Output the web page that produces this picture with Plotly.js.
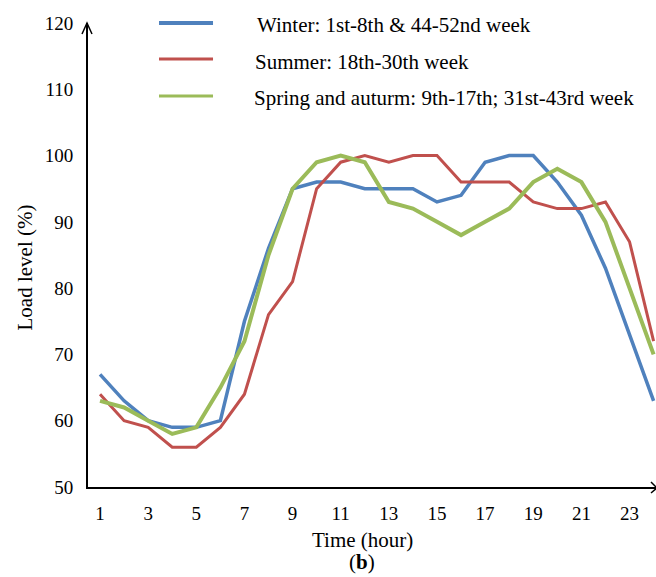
<!DOCTYPE html>
<html>
<head>
<meta charset="utf-8">
<script src="https://cdn.plot.ly/plotly-3.0.1.min.js"></script>
<style>
  html, body { margin: 0; padding: 0; background: #ffffff; }
  #chart { width: 656px; height: 577px; }
</style>
</head>
<body>
<div id="chart"></div>
<script>
// Hourly load profile by season (percent of peak)
const hours = [1, 2, 3, 4, 5, 6, 7, 8, 9, 10, 11, 12, 13, 14, 15, 16, 17, 18, 19, 20, 21, 22, 23, 24];
const winter = [67, 63, 60, 59, 59, 60, 75, 86, 95, 96, 96, 95, 95, 95, 93, 94, 99, 100, 100, 96, 91, 83, 73, 63];
const summer = [64, 60, 59, 56, 56, 59, 64, 76, 81, 95, 99, 100, 99, 100, 100, 96, 96, 96, 93, 92, 92, 93, 87, 72];
const springAutumn = [63, 62, 60, 58, 59, 65, 72, 85, 95, 99, 100, 99, 93, 92, 90, 88, 90, 92, 96, 98, 96, 90, 80, 70];

const seriesNames = [
  'Winter: 1st-8th & 44-52nd week',
  'Summer: 18th-30th week',
  'Spring and auturm: 9th-17th; 31st-43rd week'
];
const xTickVals = [1, 3, 5, 7, 9, 11, 13, 15, 17, 19, 21, 23];
const yTickVals = [50, 60, 70, 80, 90, 100, 110, 120];

const colors = ['#4F81BD', '#C0504D', '#9BBB59'];
const widths = [3.5, 3, 4];
const seriesValues = [winter, summer, springAutumn];

const serif = '"Liberation Serif", "Times New Roman", Times, serif';

const traces = seriesValues.map((vals, i) => ({
  type: 'scatter',
  mode: 'lines',
  x: hours,
  y: vals,
  name: seriesNames[i],
  line: { color: colors[i], width: widths[i] },
  showlegend: false,
  hoverinfo: 'x+y'
}));

// Hand-placed legend: sample line + label per series
const legendRows = [
  { y: 1.0, ty: 0.995, tx: 0.294, lw: 4 },
  { y: 0.9224, ty: 0.915, tx: 0.2905, lw: 3 },
  { y: 0.8427, ty: 0.838, tx: 0.2887, lw: 3 }
];

const shapes = [];
const annotations = [];
legendRows.forEach((row, i) => {
  shapes.push({
    type: 'line', xref: 'paper', yref: 'paper',
    x0: 0.125, x1: 0.2201, y0: row.y, y1: row.y,
    line: { color: colors[i], width: row.lw }
  });
  annotations.push({
    xref: 'paper', yref: 'paper', x: row.tx, y: row.ty,
    xanchor: 'left', yanchor: 'middle', showarrow: false,
    text: seriesNames[i].replace('&', '&amp;'),
    font: { family: serif, size: 21, color: '#000000' }
  });
});

// Open arrow heads at the ends of both axes
shapes.push({
  type: 'path', xref: 'paper', yref: 'paper',
  xsizemode: 'pixel', ysizemode: 'pixel', xanchor: 0, yanchor: 1,
  path: 'M-6,-11 L-1,0 L4,-11',
  line: { color: '#000000', width: 1.5 }
});
shapes.push({
  type: 'path', xref: 'paper', yref: 'paper',
  xsizemode: 'pixel', ysizemode: 'pixel', xanchor: 1, yanchor: 0,
  path: 'M-5,5 L1,-1 L-5,-6',
  line: { color: '#000000', width: 1.5 }
});

annotations.push({
  xref: 'paper', yref: 'paper', x: -0.111, y: 0.473,
  xanchor: 'center', yanchor: 'middle', showarrow: false, textangle: -90,
  text: 'Load level (%)',
  font: { family: serif, size: 21, color: '#000000' }
});
annotations.push({
  xref: 'paper', yref: 'paper', x: 0.484, y: -0.1135,
  xanchor: 'center', yanchor: 'middle', showarrow: false,
  text: 'Time (hour)',
  font: { family: serif, size: 21, color: '#000000' }
});
annotations.push({
  xref: 'paper', yref: 'paper', x: 0.482, y: -0.162,
  xanchor: 'center', yanchor: 'middle', showarrow: false,
  text: '(<b>b</b>)',
  font: { family: serif, size: 21, color: '#000000' }
});

const layout = {
  width: 656,
  height: 577,
  margin: { l: 88, r: 0, t: 23, b: 90 },
  paper_bgcolor: '#ffffff',
  plot_bgcolor: '#ffffff',
  showlegend: false,
  font: { family: serif, size: 19, color: '#000000' },
  xaxis: {
    range: [0.5, 24.1],
    tickmode: 'array',
    tickvals: xTickVals,
    ticktext: xTickVals.map(String),
    showgrid: false,
    zeroline: false,
    showline: true,
    linecolor: '#000000',
    linewidth: 2,
    ticks: '',
    ticklabelstandoff: 8,
    tickfont: { family: serif, size: 19, color: '#000000' }
  },
  yaxis: {
    range: [50, 120],
    tickmode: 'array',
    tickvals: yTickVals,
    ticktext: yTickVals.map(String),
    showgrid: false,
    zeroline: false,
    showline: true,
    linecolor: '#000000',
    linewidth: 2,
    ticks: '',
    ticklabelstandoff: 9,
    tickfont: { family: serif, size: 19, color: '#000000' }
  },
  shapes: shapes,
  annotations: annotations
};

Plotly.newPlot('chart', traces, layout, { displayModeBar: false, staticPlot: true });
</script>
</body>
</html>
